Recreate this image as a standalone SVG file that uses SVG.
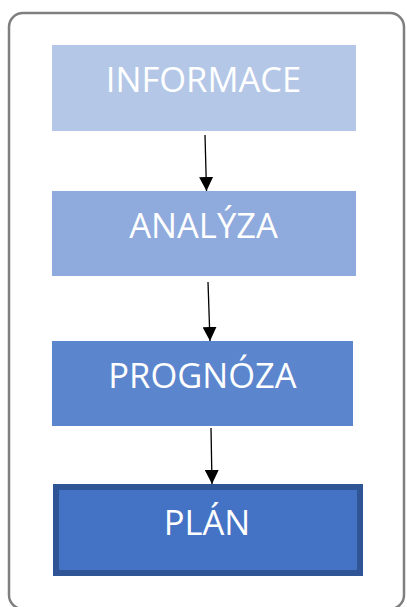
<svg xmlns="http://www.w3.org/2000/svg" width="407" height="607" viewBox="0 0 407 607">
  <style>
    .frame { fill: #ffffff; stroke: #7f7f7f; stroke-width: 2.5; }
    .label { font-family: "Open Sans", "Liberation Sans", sans-serif; font-size: 34.5px; fill: #ffffff; text-anchor: middle; }
    .edge { stroke: #000000; stroke-width: 1.3; fill: none; marker-end: url(#head); }
  </style>
  <defs>
    <marker id="head" viewBox="0 0 14 14" refX="14" refY="7" markerWidth="14" markerHeight="14" markerUnits="userSpaceOnUse" orient="auto">
      <path d="M0,0 L14,7 L0,14 Z" fill="#000000"/>
    </marker>
  </defs>

  <rect class="frame" x="9" y="13" width="395" height="596" rx="14" ry="14"/>

  <g id="informace">
    <rect x="52" y="45" width="304" height="86" fill="#b4c7e7"/>
    <text class="label" x="203.5" y="92">INFORMACE</text>
  </g>
  <g id="analyza">
    <rect x="52" y="191" width="304" height="85" fill="#8faadc"/>
    <text class="label" x="203.5" y="238">ANALÝZA</text>
  </g>
  <g id="prognoza">
    <rect x="52" y="341" width="301" height="85" fill="#5b85cd"/>
    <text class="label" x="202.5" y="388">PROGNÓZA</text>
  </g>
  <g id="plan">
    <rect x="56" y="487" width="304" height="86" fill="#4472c4" stroke="#2f5597" stroke-width="6"/>
    <text class="label" x="207" y="535">PLÁN</text>
  </g>

  <g id="connectors">
    <line class="edge" x1="205" y1="135" x2="206.5" y2="191"/>
    <line class="edge" x1="208" y1="282" x2="210" y2="341"/>
    <line class="edge" x1="211" y1="428" x2="212" y2="484"/>
  </g>
</svg>
